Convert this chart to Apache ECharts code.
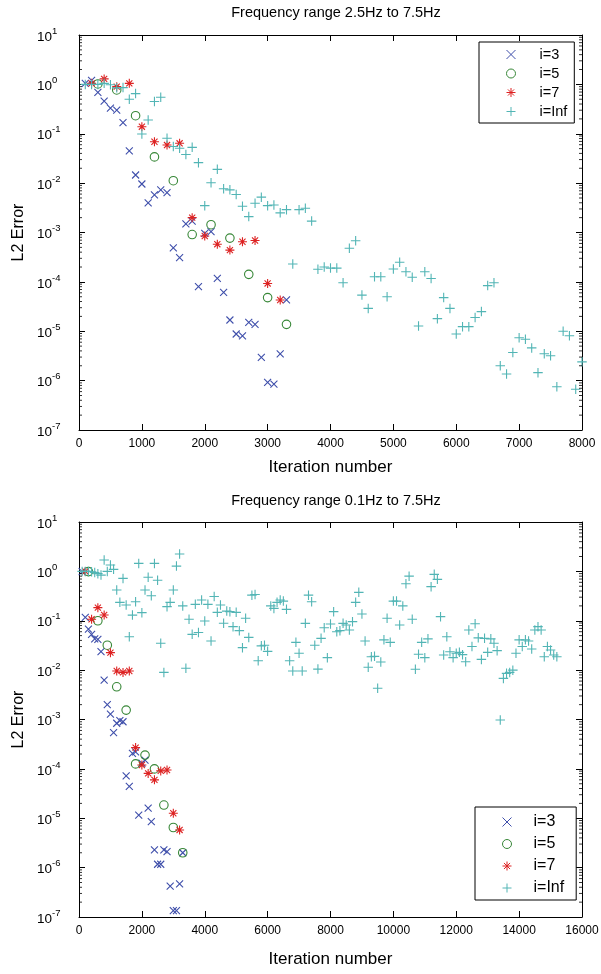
<!DOCTYPE html>
<html><head><meta charset="utf-8">
<script src="https://cdn.jsdelivr.net/npm/echarts@6/dist/echarts.min.js"></script>
<style>html,body{margin:0;padding:0;background:#fff}#c{width:601px;height:974px}</style>
</head><body><div id="c"></div>
<script>
const seriesNames = ['i=3', 'i=5', 'i=7', 'i=Inf'];
const titles = ['Frequency range 2.5Hz to 7.5Hz', 'Frequency range 0.1Hz to 7.5Hz'];
const xAxisName = 'Iteration number';
const yAxisName = 'L2 Error';

// ---------- top panel (2.5Hz to 7.5Hz) ----------
const topIter3 = [100,200,300,400,500,600,700,800,900,1000,1100,1200,1300,1400,1500,1600,1700,1800,1900,2000,2100,2200,2300,2400,2500,2600,2700,2800,2900,3000,3100,3200,3300];
const topErr3 = [1.05,1.2,0.69,0.46,0.33,0.30,0.168,0.045,0.0146,0.0096,0.0040,0.0058,0.0073,0.0064,0.00049,0.00031,0.0015,0.0017,0.00008,0.00096,0.00104,0.000118,0.0000615,1.69e-5,8.8e-6,8.1e-6,1.51e-5,1.38e-5,2.96e-6,9.2e-7,8.5e-7,3.47e-6,4.3e-5];
const topIter5 = [300,600,900,1200,1500,1800,2100,2400,2700,3000,3300];
const topErr5 = [1.02,0.77,0.232,0.034,0.0112,0.00091,0.00144,0.00077,0.000142,4.8e-5,1.38e-5];
const topIter7 = [200,400,600,800,1000,1200,1400,1600,1800,2000,2200,2400,2600,2800,3000,3200];
const topErr7 = [1.05,1.29,0.90,1.05,0.139,0.069,0.059,0.064,0.002,0.00085,0.00058,0.00044,0.00065,0.00069,9.3e-5,4.3e-5];
const topIterInf = [100,200,300,400,500,600,700,800,900,1000,1100,1200,1300,1400,1500,1600,1700,1800,1900,2000,2100,2200,2300,2400,2500,2600,2700,2800,2900,3000,3100,3200,3300,3400,3500,3600,3700,3800,3900,4000,4100,4200,4300,4400,4500,4600,4700,4800,4900,5000,5100,5200,5300,5400,5500,5600,5700,5800,5900,6000,6100,6200,6300,6400,6500,6600,6700,6800,6900,7000,7100,7200,7300,7400,7500,7600,7700,7800,7900,8000];
const topErrInf = [1.0,1.0,1.0,1.05,0.98,0.85,0.86,0.50,0.65,0.099,0.19,0.45,0.55,0.081,0.055,0.051,0.038,0.053,0.026,0.0035,0.0102,0.019,0.0077,0.0073,0.0059,0.0034,0.0021,0.0039,0.0052,0.0035,0.0036,0.0025,0.0029,0.00023,0.0029,0.0031,0.0017,0.00018,0.00020,0.00019,0.00019,9.6e-5,0.00048,0.00068,5.4e-5,2.9e-5,0.000127,0.000127,5.0e-5,0.000182,0.00025,0.00016,0.000124,1.28e-5,0.00016,0.000117,1.8e-5,4.8e-5,2.9e-5,8.8e-6,1.24e-5,1.24e-5,1.9e-5,2.5e-5,8.4e-5,9.6e-5,2.0e-6,1.36e-6,3.7e-6,7.4e-6,6.9e-6,4.6e-6,1.45e-6,3.5e-6,3.2e-6,7.5e-7,1.0e-5,8.1e-6,6.7e-7,2.4e-6];

// ---------- bottom panel (0.1Hz to 7.5Hz) ----------
const botIter3 = [100,200,300,400,500,600,700,800,900,1000,1100,1200,1300,1400,1500,1600,1700,1800,1900,2000,2100,2200,2300,2400,2500,2600,2700,2800,2900,3000,3100,3200,3300];
const botErr3 = [0.99,0.117,0.068,0.053,0.043,0.042,0.0236,0.0063,0.0020,0.00129,0.00054,0.00084,0.00095,0.0009,7.2e-5,4.4e-5,0.000207,0.00022,1.16e-5,0.00013,0.00015,1.6e-5,8.5e-6,2.3e-6,1.17e-6,1.17e-6,2.3e-6,2.1e-6,4.2e-7,1.35e-7,1.35e-7,4.7e-7,2.0e-6];
const botIter5 = [300,600,900,1200,1500,1800,2100,2400,2700,3000,3300];
const botErr5 = [0.99,0.10,0.032,0.0046,0.00155,0.000126,0.00019,0.0001,1.85e-5,6.5e-6,2.0e-6];
const botIter7 = [200,400,600,800,1000,1200,1400,1600,1800,2000,2200,2400,2600,2800,3000,3200];
const botErr7 = [1.0,0.107,0.184,0.131,0.0226,0.0096,0.009,0.0096,0.00027,0.00012,8.1e-5,6.0e-5,9.1e-5,9.5e-5,1.26e-5,5.8e-6];
const botIterInf = [100,200,300,400,500,600,700,800,900,1000,1100,1200,1300,1400,1500,1600,1700,1800,1900,2000,2100,2200,2300,2400,2500,2600,2700,2800,2900,3000,3100,3200,3300,3400,3500,3600,3700,3800,3900,4000,4100,4200,4300,4400,4500,4600,4700,4800,4900,5000,5100,5200,5300,5400,5500,5600,5700,5800,5900,6000,6100,6200,6300,6400,6500,6600,6700,6800,6900,7000,7100,7200,7300,7400,7500,7600,7700,7800,7900,8000,8100,8200,8300,8400,8500,8600,8700,8800,8900,9000,9100,9200,9300,9400,9500,9600,9700,9800,9900,10000,10100,10200,10300,10400,10500,10600,10700,10800,10900,11000,11100,11200,11300,11400,11500,11600,11700,11800,11900,12000,12100,12200,12300,12400,12500,12600,12700,12800,12900,13000,13100,13200,13300,13400,13500,13600,13700,13800,13900,14000,14100,14200,14300,14400,14500,14600,14700,14800,14900,15000,15100,15200];
const botErrInf = [1.0,1.0,1.0,0.98,0.95,0.9,0.84,1.70,1.0,1.35,1.1,0.42,0.236,0.72,0.208,0.0475,0.13,0.243,1.45,0.146,0.42,0.76,0.32,1.45,0.66,0.035,0.009,0.193,0.236,0.42,1.28,2.25,0.2,0.0109,0.107,0.053,0.215,0.058,0.263,0.099,0.215,0.039,0.31,0.148,0.208,0.089,0.157,0.153,0.076,0.148,0.063,0.0285,0.112,0.046,0.33,0.34,0.0155,0.031,0.032,0.024,0.2,0.178,0.236,0.263,0.25,0.17,0.0155,0.0096,0.0365,0.0219,0.0096,0.0885,0.33,0.243,0.032,0.0105,0.044,0.072,0.0179,0.086,0.153,0.06,0.063,0.0885,0.082,0.065,0.096,0.236,0.376,0.137,0.039,0.0114,0.0187,0.019,0.0043,0.0146,0.041,0.112,0.0365,0.25,0.25,0.082,0.2,0.56,0.8,0.107,0.0104,0.021,0.0365,0.0179,0.043,0.49,0.87,0.69,0.121,0.0202,0.0475,0.0236,0.0179,0.0219,0.0229,0.0206,0.0148,0.065,0.03,0.087,0.045,0.0165,0.044,0.0229,0.043,0.035,0.0248,0.00098,0.0068,0.0086,0.009,0.01,0.0219,0.041,0.03,0.041,0.039,0.0267,0.065,0.076,0.065,0.0187,0.03,0.0256,0.0202,0.0187];

const topXMax = 8000, topXStep = 1000;
const botXMax = 16000, botXStep = 2000;
const yMin = 1e-7, yMax = 10;
const minorMultipliers = [2,3,4,5,6,7,8,9];

// ---------- styling ----------
const FONT = 'Liberation Sans, Arial, Helvetica, sans-serif';
const colors = ['#3f4fab', '#378737', '#dd2222', '#52b5b5'];
const symbols = [
  'path://M0,0L10,10M10,0L0,10',
  'circle',
  'path://M5,0L5,10M0,5L10,5M1.6,1.6L8.4,8.4M8.4,1.6L1.6,8.4',
  'path://M5,0L5,10M0,5L10,5'
];
const sizes = [7, 8.5, 9, 9.5];

const minorVals = [];
for (let e = -7; e < 1; e++) minorMultipliers.forEach(m => minorVals.push(m * Math.pow(10, e)));

const grids = [
  {left: 79, top: 35, width: 503, height: 395},
  {left: 79, top: 522, width: 503, height: 395}
];

function xAxes(gi, max, step, nameGap) {
  return [{
    gridIndex: gi, type: 'value', min: 0, max: max, interval: step, position: 'bottom',
    axisLine: {show: true, onZero: false, lineStyle: {color: '#000', width: 1}},
    axisTick: {show: true, inside: true, length: 6, lineStyle: {color: '#000'}},
    axisLabel: {show: true, color: '#000', fontSize: 12, fontFamily: FONT, margin: 8, formatter: v => String(v)},
    splitLine: {show: false},
    name: xAxisName, nameLocation: 'middle', nameGap: nameGap,
    nameTextStyle: {color: '#000', fontSize: 17, fontFamily: FONT}
  }, {
    gridIndex: gi, type: 'value', min: 0, max: max, interval: step, position: 'top',
    axisLine: {show: true, onZero: false, lineStyle: {color: '#000', width: 1}},
    axisTick: {show: true, inside: true, length: 6, lineStyle: {color: '#000'}},
    axisLabel: {show: false}, splitLine: {show: false}
  }];
}
function yAxes(gi) {
  return [{
    gridIndex: gi, type: 'log', logBase: 10, min: yMin, max: yMax, splitNumber: 8, position: 'left',
    axisLine: {show: true, onZero: false, lineStyle: {color: '#000', width: 1}},
    axisTick: {show: true, inside: true, length: 6, lineStyle: {color: '#000'}},
    axisLabel: {
      show: true, align: 'left', margin: 42, padding: [4, 0, 0, 0],
      formatter: v => '{b|10}{s|' + Math.round(Math.log10(v)) + '}',
      rich: {
        b: {fontSize: 13.5, fontFamily: FONT, color: '#000', lineHeight: 22},
        s: {fontSize: 9.5, fontFamily: FONT, color: '#000', lineHeight: 10, verticalAlign: 'top'}
      }
    },
    splitLine: {show: false},
    name: yAxisName, nameLocation: 'middle', nameGap: 52, nameRotate: 90,
    nameTextStyle: {color: '#000', fontSize: 16, fontFamily: FONT}
  }, {
    gridIndex: gi, type: 'log', logBase: 10, min: yMin, max: yMax, splitNumber: 8, position: 'right',
    axisLine: {show: true, onZero: false, lineStyle: {color: '#000', width: 1}},
    axisTick: {show: true, inside: true, length: 6, lineStyle: {color: '#000'}},
    axisLabel: {show: false}, splitLine: {show: false}
  }];
}

function scatter(k, gi, iters, errs) {
  return {
    type: 'scatter', name: seriesNames[k], xAxisIndex: gi * 2, yAxisIndex: gi * 2,
    data: iters.map((x, i) => [x, errs[i]]),
    symbol: symbols[k], symbolSize: sizes[k],
    itemStyle: {color: 'rgba(0,0,0,0)', borderColor: colors[k], borderWidth: 1.1, opacity: 1},
    emphasis: {disabled: true}, animation: false, z: 3 + k
  };
}
// log-axis minor ticks (2..9 x 10^k) on the left and right frame edges
function minorTicks(gi, xVal, side) {
  return {
    type: 'scatter', name: 'minor' + gi + side, xAxisIndex: gi * 2, yAxisIndex: gi * 2, silent: true,
    data: minorVals.map(v => [xVal, v]), symbol: 'rect', symbolSize: [3, 1],
    symbolOffset: [side === 'L' ? 1.5 : -1.5, 0], clip: false,
    itemStyle: {color: '#000', borderWidth: 0}, animation: false, z: 10, emphasis: {disabled: true}
  };
}

const legendBase = {
  orient: 'vertical', data: seriesNames, backgroundColor: '#fff',
  borderColor: '#000', borderWidth: 1, borderRadius: 0, itemWidth: 9, itemHeight: 9,
  itemStyle: {borderWidth: 1},
  selectedMode: false, inactiveColor: '#000'
};

const option = {
  animation: false,
  backgroundColor: '#fff',
  title: [
    {text: titles[0], left: 331, top: 0, textAlign: 'center', textStyle: {fontSize: 14.5, fontWeight: 'normal', color: '#000', fontFamily: FONT}},
    {text: titles[1], left: 331, top: 488, textAlign: 'center', textStyle: {fontSize: 14.5, fontWeight: 'normal', color: '#000', fontFamily: FONT}}
  ],
  grid: grids.map(g => Object.assign({containLabel: false, outerBoundsMode: 'none'}, g)),
  xAxis: [].concat(xAxes(0, topXMax, topXStep, 29), xAxes(1, botXMax, botXStep, 34)),
  yAxis: [].concat(yAxes(0), yAxes(1)),
  legend: [
    Object.assign({}, legendBase, {left: 479, top: 42, itemGap: 4, padding: [5, 7, 4, 27],
      textStyle: {fontSize: 14.5, lineHeight: 14, color: '#000', fontFamily: FONT, padding: [0, 0, 0, 19]}}),
    Object.assign({}, legendBase, {left: 475, top: 807, itemGap: 6, padding: [7, 12, 4, 27],
      textStyle: {fontSize: 16, lineHeight: 16, color: '#000', fontFamily: FONT, padding: [0, 0, 0, 17]}})
  ],
  series: [
    scatter(0, 0, topIter3, topErr3),
    scatter(1, 0, topIter5, topErr5),
    scatter(2, 0, topIter7, topErr7),
    scatter(3, 0, topIterInf, topErrInf),
    scatter(0, 1, botIter3, botErr3),
    scatter(1, 1, botIter5, botErr5),
    scatter(2, 1, botIter7, botErr7),
    scatter(3, 1, botIterInf, botErrInf),
    minorTicks(0, 0, 'L'), minorTicks(0, topXMax, 'R'),
    minorTicks(1, 0, 'L'), minorTicks(1, botXMax, 'R')
  ]
};
const chart = echarts.init(document.getElementById('c'), null, {renderer: 'canvas'});
chart.setOption(option);
</script></body></html>
